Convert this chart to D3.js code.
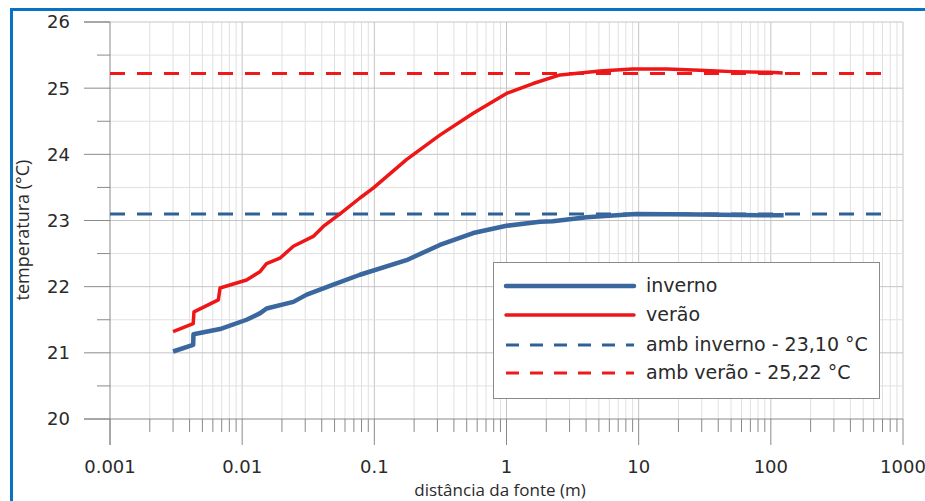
<!DOCTYPE html>
<html>
<head>
<meta charset="utf-8">
<script src="https://cdn.jsdelivr.net/npm/d3@7"></script>
<style>
  body { margin: 0; background: #fff; }
  svg { display: block; }
</style>
</head>
<body>
<div id="viz"></div>
<script>
// data
const invernoDist = [0.0030, 0.00426, 0.00428, 0.0068, 0.0108, 0.0137, 0.0153, 0.0244, 0.0308, 0.0489, 0.0778, 0.175, 0.313, 0.56, 1.0, 1.79, 2.24, 4.03, 6.8, 9.6, 29, 82, 125];
const invernoTemp = [21.02, 21.12, 21.28, 21.36, 21.50, 21.60, 21.67, 21.77, 21.88, 22.03, 22.18, 22.40, 22.63, 22.81, 22.92, 22.98, 22.99, 23.05, 23.08, 23.10, 23.09, 23.08, 23.08];
const veraoDist = [0.0030, 0.00426, 0.00432, 0.0066, 0.0068, 0.0108, 0.0137, 0.0153, 0.0193, 0.0244, 0.0345, 0.0411, 0.055, 0.0778, 0.098, 0.175, 0.313, 0.56, 1.0, 1.59, 2.54, 5.1, 9.0, 16.3, 29, 51.6, 98, 123];
const veraoTemp = [21.32, 21.44, 21.62, 21.80, 21.98, 22.10, 22.23, 22.35, 22.43, 22.61, 22.76, 22.91, 23.10, 23.34, 23.49, 23.92, 24.29, 24.62, 24.92, 25.07, 25.20, 25.26, 25.29, 25.29, 25.27, 25.25, 25.24, 25.23];
const ambInverno = 23.10;
const ambVerao = 25.22;
const xTicks = [0.001, 0.01, 0.1, 1, 10, 100, 1000];
const xTickLabels = ["0.001", "0.01", "0.1", "1", "10", "100", "1000"];
const yTicks = [20, 21, 22, 23, 24, 25, 26];
const legendLabels = ["inverno", "verão", "amb inverno - 23,10 °C", "amb verão - 25,22 °C"];

const width = 925, height = 501;
const BLUE = "#3a679e", RED = "#ee1616", BLUE_D = "#2f6096", RED_D = "#ee1a1a";

var svg = d3.select("#viz").append("svg").attr("width", width).attr("height", height);

// frame
svg.append("path").attr("d", "M11.5,501 L11.5,9.5 L925,9.5")
  .attr("fill", "none").attr("stroke", "#0a72c2").attr("stroke-width", 3);

var x = d3.scaleLog().domain([0.001, 1000]).range([110, 903]);
var y = d3.scaleLinear().domain([20, 26]).range([419, 22]);

// minor log values
var minors = [];
for (let e = -3; e < 3; e++) for (let k = 2; k <= 9; k++) minors.push(k * Math.pow(10, e));
var halfs = d3.range(20.5, 26, 1);

var g = svg.append("g");

// grid
g.selectAll(".vmin").data(minors).enter().append("line")
  .attr("x1", d => x(d)).attr("x2", d => x(d)).attr("y1", y(26)).attr("y2", y(20))
  .attr("stroke", "#e0e0e0").attr("stroke-width", 1);
g.selectAll(".vmaj").data(xTicks.slice(1)).enter().append("line")
  .attr("x1", d => x(d)).attr("x2", d => x(d)).attr("y1", y(26)).attr("y2", y(20))
  .attr("stroke", "#c4c4c4").attr("stroke-width", 1);
g.selectAll(".hmin").data(halfs).enter().append("line")
  .attr("x1", x(0.001)).attr("x2", x(1000)).attr("y1", d => y(d)).attr("y2", d => y(d))
  .attr("stroke", "#e0e0e0").attr("stroke-width", 1);
g.selectAll(".hmaj").data(yTicks.slice(1)).enter().append("line")
  .attr("x1", x(0.001)).attr("x2", x(1000)).attr("y1", d => y(d)).attr("y2", d => y(d))
  .attr("stroke", "#c4c4c4").attr("stroke-width", 1);

// axes
var axisColor = "#8a8a8a";
g.append("line").attr("x1", x(0.001)).attr("x2", x(0.001)).attr("y1", y(26)).attr("y2", 445)
  .attr("stroke", axisColor);
g.append("line").attr("x1", 84).attr("x2", x(1000)).attr("y1", y(20)).attr("y2", y(20))
  .attr("stroke", axisColor);
g.append("line").attr("x1", 84).attr("x2", x(0.001)).attr("y1", y(26)).attr("y2", y(26))
  .attr("stroke", axisColor);
g.selectAll(".ytk").data(yTicks).enter().append("line")
  .attr("x1", 84).attr("x2", x(0.001)).attr("y1", d => y(d)).attr("y2", d => y(d))
  .attr("stroke", axisColor);
g.selectAll(".ytm").data(halfs).enter().append("line")
  .attr("x1", 97).attr("x2", x(0.001)).attr("y1", d => y(d)).attr("y2", d => y(d))
  .attr("stroke", axisColor);
g.selectAll(".xtk").data(xTicks).enter().append("line")
  .attr("x1", d => x(d)).attr("x2", d => x(d)).attr("y1", y(20)).attr("y2", 445)
  .attr("stroke", axisColor);
g.selectAll(".xtm").data(minors).enter().append("line")
  .attr("x1", d => x(d)).attr("x2", d => x(d)).attr("y1", y(20)).attr("y2", 432)
  .attr("stroke", axisColor);

// tick labels
g.selectAll(".ylab").data(yTicks).enter().append("text")
  .attr("x", 70).attr("y", d => y(d)).attr("dy", "0.36em")
  .attr("text-anchor", "end").attr("font-family", "DejaVu Sans").attr("font-size", 18)
  .attr("fill", "#2a2a2a").text(d => d);
g.selectAll(".xlab").data(xTicks).enter().append("text")
  .attr("x", d => x(d)).attr("y", 473)
  .attr("text-anchor", "middle").attr("font-family", "DejaVu Sans").attr("font-size", 18)
  .attr("fill", "#2a2a2a").text((d, i) => xTickLabels[i]);

// titles
svg.append("text").attr("x", 500).attr("y", 496).attr("text-anchor", "middle")
  .attr("font-family", "Open Sans").attr("font-size", 17).attr("fill", "#2a2a2a")
  .text("distância da fonte (m)");
svg.append("text").attr("transform", "translate(29,230) rotate(-90)").attr("text-anchor", "middle")
  .attr("font-family", "Open Sans").attr("font-size", 18).attr("fill", "#2a2a2a")
  .text("temperatura (°C)");

// ambient lines
g.append("line").attr("x1", x(0.001)).attr("x2", 893).attr("y1", y(ambInverno)).attr("y2", y(ambInverno))
  .attr("stroke", BLUE_D).attr("stroke-width", 3).attr("stroke-dasharray", "15,12");
g.append("line").attr("x1", x(0.001)).attr("x2", 893).attr("y1", y(ambVerao)).attr("y2", y(ambVerao))
  .attr("stroke", RED_D).attr("stroke-width", 3).attr("stroke-dasharray", "15,12");

// curves
var line = d3.line().x(d => x(d[0])).y(d => y(d[1]));
g.append("path").datum(d3.zip(invernoDist, invernoTemp)).attr("d", line)
  .attr("fill", "none").attr("stroke", BLUE).attr("stroke-width", 4.5).attr("stroke-linejoin", "round");
g.append("path").datum(d3.zip(veraoDist, veraoTemp)).attr("d", line)
  .attr("fill", "none").attr("stroke", RED).attr("stroke-width", 3.5).attr("stroke-linejoin", "round");

// legend
var leg = svg.append("g");
leg.append("rect").attr("x", 493.5).attr("y", 262.5).attr("width", 386).attr("height", 136)
  .attr("fill", "#fff").attr("stroke", "#8a8a8a");
var legStyle = [
  {c: BLUE, w: 4.5, dash: null},
  {c: RED, w: 3.5, dash: null},
  {c: BLUE_D, w: 3, dash: "13,11"},
  {c: RED_D, w: 3, dash: "13,11"}
];
var rows = [286, 315, 345, 373];
legendLabels.forEach((lab, i) => {
  leg.append("line").attr("x1", 506).attr("x2", 634).attr("y1", rows[i]).attr("y2", rows[i])
    .attr("stroke", legStyle[i].c).attr("stroke-width", legStyle[i].w)
    .attr("stroke-dasharray", legStyle[i].dash).attr("stroke-linecap", legStyle[i].dash ? "butt" : "round");
  leg.append("text").attr("x", 646).attr("y", rows[i]).attr("dy", "0.32em")
    .attr("font-family", "DejaVu Sans").attr("font-size", 19).attr("fill", "#2a2a2a").text(lab);
});
</script>
</body>
</html>
